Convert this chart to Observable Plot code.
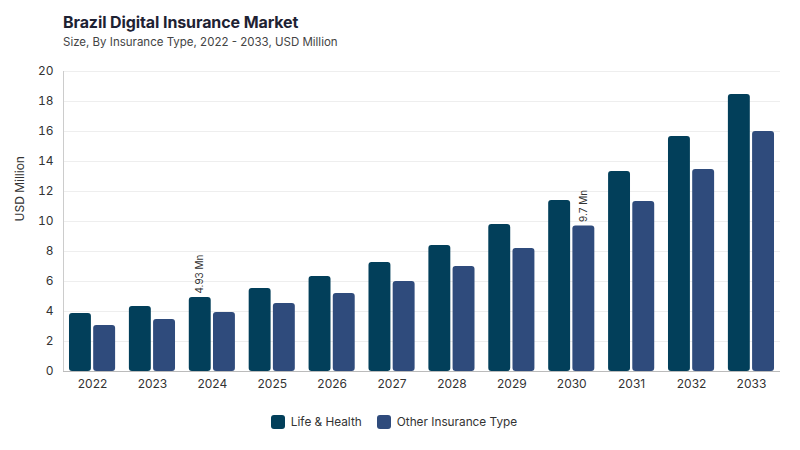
<!DOCTYPE html>
<html>
<head>
<meta charset="utf-8">
<script src="https://cdn.jsdelivr.net/npm/d3@7"></script>
<script src="https://cdn.jsdelivr.net/npm/@observablehq/plot@0.6"></script>
<style>
  body { margin: 0; background: #fff; font-family: Inter, "DejaVu Sans", sans-serif; }
  #wrap { width: 800px; height: 450px; position: relative; overflow: hidden; }
  #title { position: absolute; left: 63px; top: 12px; font-size: 16px; font-weight: 700; color: #1e2233; letter-spacing: -0.1px; }
  #subtitle { position: absolute; left: 63px; top: 35px; font-size: 11.5px; color: #444; }
  #chart { position: absolute; left: 0; top: 55px; }
  #legend { position: absolute; top: 415px; left: -6px; width: 800px; display: flex; justify-content: center; gap: 15px; font-size: 11.8px; color: #333; }
  .item { display: flex; align-items: center; gap: 6px; }
  .sw { width: 14px; height: 14px; border-radius: 3px; display: inline-block; }
</style>
</head>
<body>
<div id="wrap">
  <div id="title">Brazil Digital Insurance Market</div>
  <div id="subtitle">Size, By Insurance Type, 2022 - 2033, USD Million</div>
  <div id="chart"></div>
  <div id="legend"></div>
</div>
<script>
const years = ["2022","2023","2024","2025","2026","2027","2028","2029","2030","2031","2032","2033"];
const series = ["Life & Health", "Other Insurance Type"];
const lifeHealth = [3.87, 4.33, 4.93, 5.53, 6.33, 7.27, 8.4, 9.8, 11.4, 13.33, 15.67, 18.47];
const otherInsurance = [3.07, 3.47, 3.93, 4.53, 5.2, 6.0, 7.0, 8.2, 9.7, 11.33, 13.47, 16.0];
const colors = ["#023f5a", "#2f4b7c"];
const yTicks = [0, 2, 4, 6, 8, 10, 12, 14, 16, 18, 20];
const annotations = [
  {year: "2024", series: "Life & Health", value: 4.93, label: "4.93 Mn"},
  {year: "2030", series: "Other Insurance Type", value: 9.7, label: "9.7 Mn"}
];

const lifeData = years.map((y, i) => ({year: y, value: lifeHealth[i]}));
const otherData = years.map((y, i) => ({year: y, value: otherInsurance[i]}));

const BAND_GAP = 24.2;
const chart = Plot.plot({
  width: 800,
  height: 345,
  marginTop: 16,
  marginBottom: 29,
  marginLeft: 63,
  marginRight: 20,
  style: {fontFamily: "Inter, 'DejaVu Sans', sans-serif", fontSize: "12px", color: "#333", background: "transparent"},
  x: {domain: years, paddingInner: 0.23, paddingOuter: 0.1, round: false, label: null, tickSize: 0, tickPadding: 8},
  y: {domain: [0, 20], ticks: yTicks, label: null, tickSize: 0, tickPadding: 10},
  marks: [
    Plot.gridY(yTicks, {stroke: "#eee", strokeOpacity: 1}),
    Plot.barY(lifeData, {x: "year", y: "value", fill: colors[0], insetRight: BAND_GAP, rx: 3}),
    Plot.barY(otherData, {x: "year", y: "value", fill: colors[1], insetLeft: BAND_GAP, rx: 3}),
    Plot.axisX({tickSize: 0, tickPadding: 8, fontSize: 12, fill: "#333"}),
    Plot.axisY(yTicks, {tickSize: 0, tickPadding: 10, fontSize: 12, fill: "#333"}),
    Plot.frame({anchor: "left", stroke: "#ccc"}),
    Plot.ruleY([0], {stroke: "#bbb"}),
    Plot.text(annotations.filter(d => d.series === series[0]), {x: "year", y: "value", text: "label", rotate: -90, textAnchor: "start", lineAnchor: "middle", dx: -12.1, dy: -4, fontSize: 10, fill: "#333"}),
    Plot.text(annotations.filter(d => d.series === series[1]), {x: "year", y: "value", text: "label", rotate: -90, textAnchor: "start", lineAnchor: "middle", dx: 12.1, dy: -4, fontSize: 10, fill: "#333"}),
    Plot.text(["USD Million"], {frameAnchor: "left", dx: -43, rotate: -90, fontSize: 12, fill: "#333"})
  ]
});
document.getElementById("chart").appendChild(chart);

const legend = document.getElementById("legend");
series.forEach((s, i) => {
  const it = document.createElement("div");
  it.className = "item";
  const sw = document.createElement("span");
  sw.className = "sw";
  sw.style.background = colors[i];
  const t = document.createElement("span");
  t.textContent = s;
  it.appendChild(sw); it.appendChild(t);
  legend.appendChild(it);
});
</script>
</body>
</html>
